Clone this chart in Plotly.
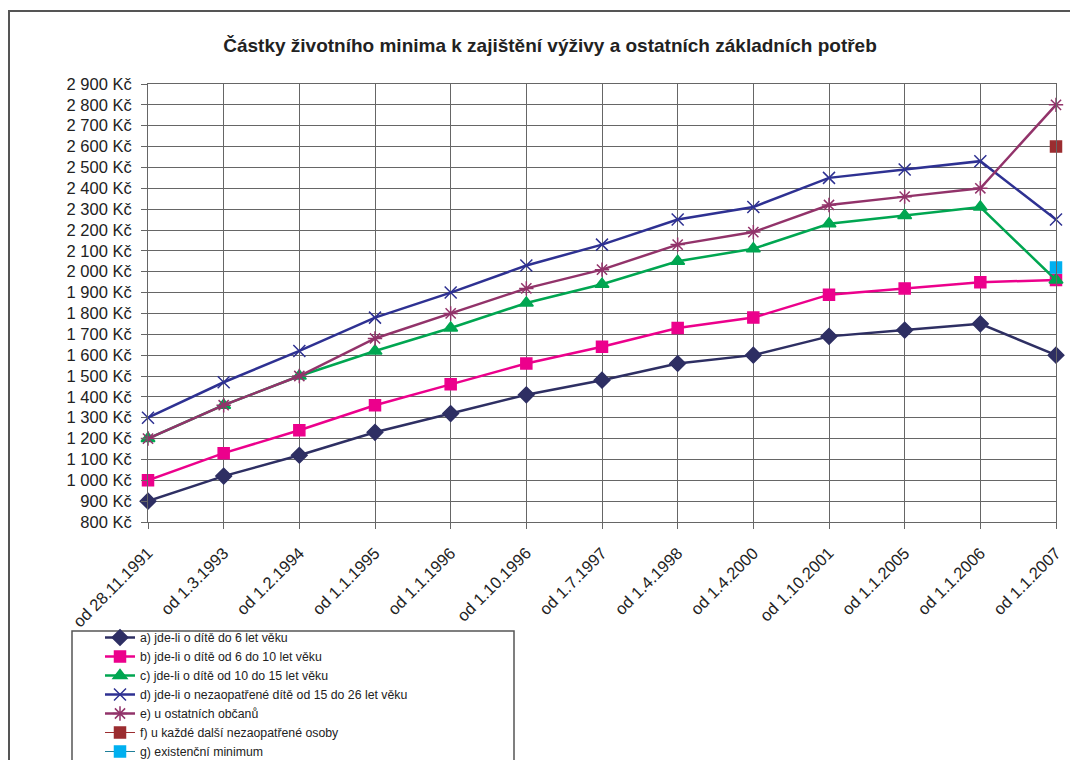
import plotly.graph_objects as go

categories = ["od 28.11.1991", "od 1.3.1993", "od 1.2.1994", "od 1.1.1995", "od 1.1.1996",
              "od 1.10.1996", "od 1.7.1997", "od 1.4.1998", "od 1.4.2000", "od 1.10.2001",
              "od 1.1.2005", "od 1.1.2006", "od 1.1.2007"]

a_do6 = [900, 1020, 1120, 1230, 1320, 1410, 1480, 1560, 1600, 1690, 1720, 1750, 1600]
b_6_10 = [1000, 1130, 1240, 1360, 1460, 1560, 1640, 1730, 1780, 1890, 1920, 1950, 1960]
c_10_15 = [1200, 1360, 1500, 1620, 1730, 1850, 1940, 2050, 2110, 2230, 2270, 2310, 1960]
d_15_26 = [1300, 1470, 1620, 1780, 1900, 2030, 2130, 2250, 2310, 2450, 2490, 2530, 2250]
e_ostatni = [1200, 1360, 1500, 1680, 1800, 1920, 2010, 2130, 2190, 2320, 2360, 2400, 2800]
f_dalsi = [None] * 12 + [2600]
g_exist = [None] * 12 + [2020]

names = ["a) jde-li o dítě do 6 let věku",
         "b) jde-li o dítě od 6 do 10 let věku",
         "c) jde-li o dítě od 10 do 15 let věku",
         "d) jde-li o nezaopatřené dítě od 15 do 26 let věku",
         "e) u ostatních občanů",
         "f) u každé další nezaopatřené osoby",
         "g) existenční minimum"]

y_ticks = list(range(800, 3000, 100))
y_ticktext = [f"{v:,}".replace(",", " ") + " Kč" for v in y_ticks]

FONT = "Liberation Sans, Arial, sans-serif"

fig = go.Figure()

specs = [
    (a_do6, names[0], "#2E2F63", "#2E2F63", "diamond", 12, 2.5),
    (b_6_10, names[1], "#EC008C", "#EC008C", "square", 11, 2.5),
    (c_10_15, names[2], "#00A651", "#00A651", "triangle-up", 12, 2.5),
    (d_15_26, names[3], "#2E3192", "#2E3192", "x-thin-open", 12, 2.5),
    (e_ostatni, names[4], "#92336A", "#92336A", "asterisk-open", 12, 2.5),
    (f_dalsi, names[5], "#9B2D30", "#9B2D30", "square", 11, 1),
    (g_exist, names[6], "#1F7F99", "#00B0F0", "square", 11, 1),
]

for vals, name, lc, mc, sym, size, lw in specs:
    fig.add_trace(go.Scatter(
        x=categories, y=vals, name=name, mode="lines+markers",
        line=dict(color=lc, width=lw),
        marker=dict(symbol=sym, size=size, color=mc, line=dict(color=mc, width=1.5)),
        cliponaxis=False,
    ))

# page body has an 8px margin: figure coordinates = screen - 8
OFF = 8
W, H = 1078 - OFF, 760 - OFF
L, R, T, B = 148 - OFF, 1056 - OFF, 84 - OFF, 522 - OFF
pw, ph = R - L, B - T

def px(x):
    return (x - OFF - L) / pw

def py(y):
    return (B - (y - OFF)) / ph

fig.update_layout(
    width=W, height=H, autosize=False,
    margin=dict(l=L, r=W - R, t=T, b=H - B, autoexpand=False),
    paper_bgcolor="white", plot_bgcolor="white",
    font=dict(family=FONT, color="#222222", size=16),
    title=dict(text="<b>Částky životního minima k zajištění výživy a ostatních základních potřeb</b>",
               x=(550 - OFF) / W, xref="container", xanchor="center",
               y=1 - (45 - OFF) / H, yref="container", yanchor="middle",
               font=dict(family=FONT, size=19, color="#222222")),
    showlegend=True,
    legend=dict(x=(100 - OFF) / W, y=1 - (623 - OFF) / H, xref="container", yref="container",
                xanchor="left", yanchor="top",
                bgcolor="rgba(0,0,0,0)", borderwidth=0,
                font=dict(family=FONT, size=12.3, color="#222222"),
                traceorder="normal"),
    xaxis=dict(type="category", range=[0, len(categories) - 1], showgrid=True,
               gridcolor="#666666", gridwidth=1, tickangle=-45, automargin=False,
               ticks="outside", ticklen=6, tickcolor="#666666", ticklabelstandoff=8,
               showline=True, linecolor="#666666", linewidth=1, mirror=True,
               zeroline=False, tickfont=dict(size=16.5)),
    yaxis=dict(range=[800, 2900], tickvals=y_ticks, ticktext=y_ticktext, automargin=False,
               showgrid=True, gridcolor="#666666", gridwidth=1,
               ticks="outside", ticklen=6, tickcolor="#666666", ticklabelstandoff=6,
               showline=True, linecolor="#666666", linewidth=1, mirror=True,
               zeroline=False, tickfont=dict(size=16.5)),
    shapes=[
        dict(type="rect", xref="paper", yref="paper",
             x0=px(9), x1=px(1100), y0=py(11), y1=py(800),
             line=dict(color="#555555", width=2), fillcolor="rgba(0,0,0,0)", layer="below"),
        dict(type="rect", xref="paper", yref="paper",
             x0=px(72), x1=px(514), y0=py(631), y1=py(800),
             line=dict(color="#555555", width=1.5), fillcolor="rgba(0,0,0,0)", layer="below"),
    ],
)

fig.write_html("out.html")
